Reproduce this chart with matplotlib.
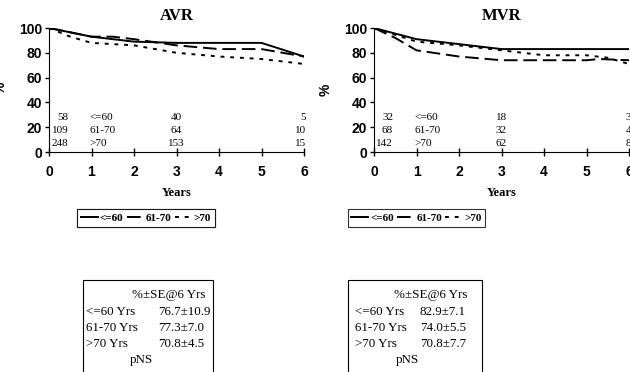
import matplotlib
matplotlib.use("Agg")
import matplotlib.pyplot as plt
from matplotlib.lines import Line2D
from matplotlib.patches import Rectangle

W, H = 630, 372

groups = ["<=60", "61-70", ">70"]
styles = ["-", (0, (7, 3)), (0, (2, 3))]

# AVR curves
avr_x = {
    "<=60": [0, 1, 2, 3, 4, 5, 6],
    "61-70": [0, 1, 1.5, 2, 3, 4, 5, 5.5, 6],
    ">70": [0, 0.5, 1, 2, 3, 4, 5, 6],
}
avr_y = {
    "<=60": [100, 93, 89, 88, 88, 88, 77],
    "61-70": [100, 93, 93, 91, 86, 83, 83, 80, 77],
    ">70": [100, 93, 88, 86, 80, 77, 75, 71],
}
# MVR curves
mvr_x = {
    "<=60": [0, 1, 2, 3, 4, 5, 6],
    "61-70": [0, 0.5, 1, 2, 3, 4, 5, 5.3, 6],
    ">70": [0, 1, 2, 3, 4, 5, 5.5, 6],
}
mvr_y = {
    "<=60": [100, 91, 87, 83, 83, 83, 83],
    "61-70": [100, 92, 82, 77, 74, 74, 74, 75, 74],
    ">70": [100, 89, 86, 82, 78, 78, 76, 71],
}

avr_risk = {"<=60": [58, 40, 5], "61-70": [109, 64, 10], ">70": [248, 153, 15]}
mvr_risk = {"<=60": [32, 18, 3], "61-70": [68, 32, 4], ">70": [142, 62, 8]}
risk_rows_y = [28, 17, 7]

avr_stats = ["76.7\u00b110.9", "77.3\u00b17.0", "70.8\u00b14.5"]
mvr_stats = ["82.9\u00b17.1", "74.0\u00b15.5", "70.8\u00b17.7"]
stat_labels = ["<=60 Yrs", "61-70 Yrs", ">70 Yrs"]

serif = "Liberation Serif"
sans = "Liberation Sans"

fig = plt.figure(figsize=(W / 100, H / 100), dpi=100)


def px(x0, y0, w, h):
    return [x0 / W, 1 - (y0 + h) / H, w / W, h / H]


def panel(x0, title, xs, ys, risk):
    ax = fig.add_axes(px(x0, 28, 255, 124))
    for g, ls in zip(groups, styles):
        ax.plot(xs[g], ys[g], color="black", lw=1.4, linestyle=ls)
    ax.set_xlim(0, 6)
    ax.set_ylim(0, 100)
    ax.set_xticks(range(7))
    ax.set_yticks(range(0, 101, 20))
    for s in ["top", "right"]:
        ax.spines[s].set_visible(False)
    ax.tick_params(axis="x", direction="inout", length=6, width=1, pad=6)
    ax.tick_params(axis="y", direction="out", length=3, width=1, pad=2)
    for lab in ax.get_xticklabels() + ax.get_yticklabels():
        lab.set_fontfamily(sans)
        lab.set_fontweight("bold")
        lab.set_fontsize(10)
    ax.set_title(title, fontfamily=serif, fontweight="bold", fontsize=12, pad=6)
    ax.set_xlabel("Years", fontfamily=serif, fontweight="bold", fontsize=9, labelpad=6)
    for g, yv in zip(groups, risk_rows_y):
        r = risk[g]
        ax.text(0.45, yv, str(r[0]), ha="right", va="center", fontfamily=serif, fontsize=8)
        ax.text(0.95, yv, g, ha="left", va="center", fontfamily=serif, fontsize=8)
        ax.text(3.0, yv, str(r[1]), ha="center", va="center", fontfamily=serif, fontsize=8)
        ax.text(6.05, yv, str(r[2]), ha="right", va="center", fontfamily=serif, fontsize=8)
    return ax


ax1 = panel(49, "AVR", avr_x, avr_y, avr_risk)
ax2 = panel(374, "MVR", mvr_x, mvr_y, mvr_risk)
# left panel's "%" label, mostly cut off at the figure edge in the reference
fig.text(1 / W, 1 - 88 / H, "%", rotation=90, ha="center", va="center",
         fontfamily=sans, fontweight="bold", fontsize=10)
ax2.set_ylabel("%", fontfamily=sans, fontweight="bold", fontsize=10, labelpad=8)

handles = [Line2D([], [], color="black", lw=1.4, linestyle=ls) for ls in styles]


def legend(x0, x1):
    leg = fig.legend(handles, groups, loc="center",
                     bbox_to_anchor=((x0 + x1) / 2 / W, 1 - 218 / H),
                     ncol=3, frameon=True, fancybox=False, edgecolor="black",
                     handlelength=1.5, handletextpad=0.2, columnspacing=0.3,
                     borderpad=0.35, borderaxespad=0,
                     prop={"family": serif, "weight": "bold", "size": 8})
    leg.get_frame().set_linewidth(0.8)
    return leg


fig.add_artist(legend(79, 213))
legend(350, 483)


def statbox(x0, x1, vals, labx, valx, hdr_right, pns_x):
    fig.add_artist(Rectangle((x0 / W, 1 - 400 / H), (x1 - x0) / W, 120 / H,
                             transform=fig.transFigure, fill=False, edgecolor="black", lw=0.8))
    kw = dict(fontfamily=serif, fontsize=9.4, va="center")
    fig.text(hdr_right / W, 1 - 295 / H, "%\u00b1SE@6 Yrs", ha="right", **kw)
    for i, (lab, v) in enumerate(zip(stat_labels, vals)):
        yy = 1 - (312 + 16 * i) / H
        fig.text(labx / W, yy, lab, ha="left", **kw)
        fig.text(valx / W, yy, v, ha="left", **kw)
    fig.text(pns_x / W, 1 - 360 / H, "pNS", ha="center", **kw)


statbox(83, 213, avr_stats, 86, 158, 205, 141)
statbox(348, 482, mvr_stats, 355, 420, 468, 407)

fig.savefig("out.png", dpi=100)
